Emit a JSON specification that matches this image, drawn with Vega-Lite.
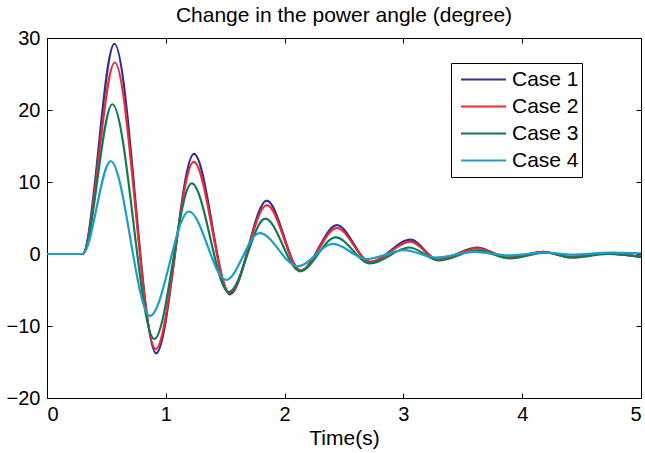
{
  "$schema": "https://vega.github.io/schema/vega-lite/v6.json",
  "width": 594,
  "height": 360,
  "autosize": {"type": "none"},
  "padding": {"left": 47, "top": 38, "right": 4, "bottom": 55},
  "background": "white",
  "title": {"text": "Change in the power angle (degree)", "font": "Liberation Sans", "fontSize": 21, "fontWeight": "normal", "color": "black", "offset": 2, "anchor": "middle"},
  "config": {
    "view": {"stroke": "black", "strokeWidth": 1},
    "axis": {"labelFont": "Liberation Sans", "labelFontSize": 20, "labelColor": "black", "titleFont": "Liberation Sans", "titleFontSize": 21, "titleFontWeight": "normal", "titleColor": "black", "tickColor": "black", "tickWidth": 1, "grid": false, "domain": false},
    "legend": {"orient": "none", "legendX": 404, "legendY": 25, "symbolType": "stroke", "symbolSize": 2025, "symbolStrokeWidth": 2, "labelFont": "Liberation Sans", "labelFontSize": 21, "labelColor": "black", "strokeColor": "black", "fillColor": "white", "padding": 3, "clipHeight": 27, "rowPadding": 0, "labelOffset": 5, "symbolOffset": 6}
  },
  "data": {"values": [
    {"t": 0, "v": 0, "case": "Case 1"}, {"t": 0.3, "v": 0, "case": "Case 1"}, {"t": 0.567, "v": 29.2, "case": "Case 1"}, {"t": 0.918, "v": -13.8, "case": "Case 1"}, {"t": 1.237, "v": 13.9, "case": "Case 1"}, {"t": 1.54, "v": -5.6, "case": "Case 1"}, {"t": 1.85, "v": 7.4, "case": "Case 1"}, {"t": 2.135, "v": -2.3, "case": "Case 1"}, {"t": 2.44, "v": 4.0, "case": "Case 1"}, {"t": 2.72, "v": -1.1, "case": "Case 1"}, {"t": 3.06, "v": 2.0, "case": "Case 1"}, {"t": 3.29, "v": -0.8, "case": "Case 1"}, {"t": 3.62, "v": 0.9, "case": "Case 1"}, {"t": 3.88, "v": -0.5, "case": "Case 1"}, {"t": 4.18, "v": 0.3, "case": "Case 1"}, {"t": 4.4, "v": -0.4, "case": "Case 1"}, {"t": 4.71, "v": 0.1, "case": "Case 1"}, {"t": 5, "v": -0.4, "case": "Case 1"},
    {"t": 0, "v": 0, "case": "Case 2"}, {"t": 0.3, "v": 0, "case": "Case 2"}, {"t": 0.57, "v": 26.6, "case": "Case 2"}, {"t": 0.915, "v": -13.2, "case": "Case 2"}, {"t": 1.235, "v": 12.8, "case": "Case 2"}, {"t": 1.54, "v": -5.4, "case": "Case 2"}, {"t": 1.85, "v": 6.8, "case": "Case 2"}, {"t": 2.135, "v": -2.3, "case": "Case 2"}, {"t": 2.44, "v": 3.6, "case": "Case 2"}, {"t": 2.72, "v": -1.1, "case": "Case 2"}, {"t": 3.06, "v": 1.7, "case": "Case 2"}, {"t": 3.29, "v": -0.8, "case": "Case 2"}, {"t": 3.62, "v": 0.8, "case": "Case 2"}, {"t": 3.88, "v": -0.5, "case": "Case 2"}, {"t": 4.18, "v": 0.3, "case": "Case 2"}, {"t": 4.4, "v": -0.4, "case": "Case 2"}, {"t": 4.71, "v": 0.1, "case": "Case 2"}, {"t": 5, "v": -0.4, "case": "Case 2"},
    {"t": 0, "v": 0, "case": "Case 3"}, {"t": 0.3, "v": 0, "case": "Case 3"}, {"t": 0.55, "v": 20.8, "case": "Case 3"}, {"t": 0.903, "v": -11.8, "case": "Case 3"}, {"t": 1.218, "v": 9.8, "case": "Case 3"}, {"t": 1.53, "v": -5.3, "case": "Case 3"}, {"t": 1.838, "v": 4.9, "case": "Case 3"}, {"t": 2.13, "v": -2.4, "case": "Case 3"}, {"t": 2.43, "v": 2.3, "case": "Case 3"}, {"t": 2.72, "v": -1.3, "case": "Case 3"}, {"t": 3.05, "v": 0.9, "case": "Case 3"}, {"t": 3.3, "v": -0.9, "case": "Case 3"}, {"t": 3.62, "v": 0.5, "case": "Case 3"}, {"t": 3.9, "v": -0.6, "case": "Case 3"}, {"t": 4.2, "v": 0.2, "case": "Case 3"}, {"t": 4.42, "v": -0.5, "case": "Case 3"}, {"t": 4.72, "v": 0, "case": "Case 3"}, {"t": 5, "v": -0.4, "case": "Case 3"},
    {"t": 0, "v": 0, "case": "Case 4"}, {"t": 0.3, "v": 0, "case": "Case 4"}, {"t": 0.536, "v": 12.9, "case": "Case 4"}, {"t": 0.867, "v": -8.6, "case": "Case 4"}, {"t": 1.195, "v": 5.9, "case": "Case 4"}, {"t": 1.507, "v": -3.6, "case": "Case 4"}, {"t": 1.79, "v": 2.9, "case": "Case 4"}, {"t": 2.11, "v": -1.7, "case": "Case 4"}, {"t": 2.41, "v": 1.4, "case": "Case 4"}, {"t": 2.69, "v": -0.7, "case": "Case 4"}, {"t": 3.01, "v": 0.55, "case": "Case 4"}, {"t": 3.27, "v": -0.5, "case": "Case 4"}, {"t": 3.6, "v": 0.3, "case": "Case 4"}, {"t": 3.88, "v": -0.2, "case": "Case 4"}, {"t": 4.2, "v": 0.2, "case": "Case 4"}, {"t": 4.42, "v": -0.1, "case": "Case 4"}, {"t": 4.75, "v": 0.2, "case": "Case 4"}, {"t": 5, "v": 0.1, "case": "Case 4"}
  ]},
  "layer": [
    {
      "mark": {"type": "line", "interpolate": "monotone", "strokeWidth": 2.2},
      "encoding": {
        "x": {"field": "t", "type": "quantitative", "scale": {"domain": [0, 5], "nice": false, "zero": false}, "axis": {"orient": "bottom", "values": [0, 1, 2, 3, 4, 5], "tickSize": -5, "labelPadding": 11, "title": "Time(s)", "titlePadding": 3}},
        "y": {"field": "v", "type": "quantitative", "scale": {"domain": [-20, 30], "nice": false, "zero": false}, "axis": {"orient": "left", "values": [-20, -10, 0, 10, 20, 30], "tickSize": -5, "labelPadding": 12, "title": null}},
        "color": {"field": "case", "type": "nominal", "scale": {"domain": ["Case 1", "Case 2", "Case 3", "Case 4"], "range": ["#2e2e96", "#ee2a30", "#107a55", "#1c9ec6"]}, "legend": {"title": null}}
      }
    },
    {
      "mark": {"type": "line", "interpolate": "monotone", "strokeOpacity": 0},
      "encoding": {
        "x": {"field": "t", "type": "quantitative", "axis": {"orient": "top", "values": [0, 1, 2, 3, 4, 5], "tickSize": -5, "labels": false, "title": null}},
        "y": {"field": "v", "type": "quantitative", "axis": {"orient": "right", "values": [-20, -10, 0, 10, 20, 30], "tickSize": -5, "labels": false, "title": null}},
        "detail": {"field": "case"}
      }
    }
  ],
  "resolve": {"axis": {"x": "independent", "y": "independent"}}
}
